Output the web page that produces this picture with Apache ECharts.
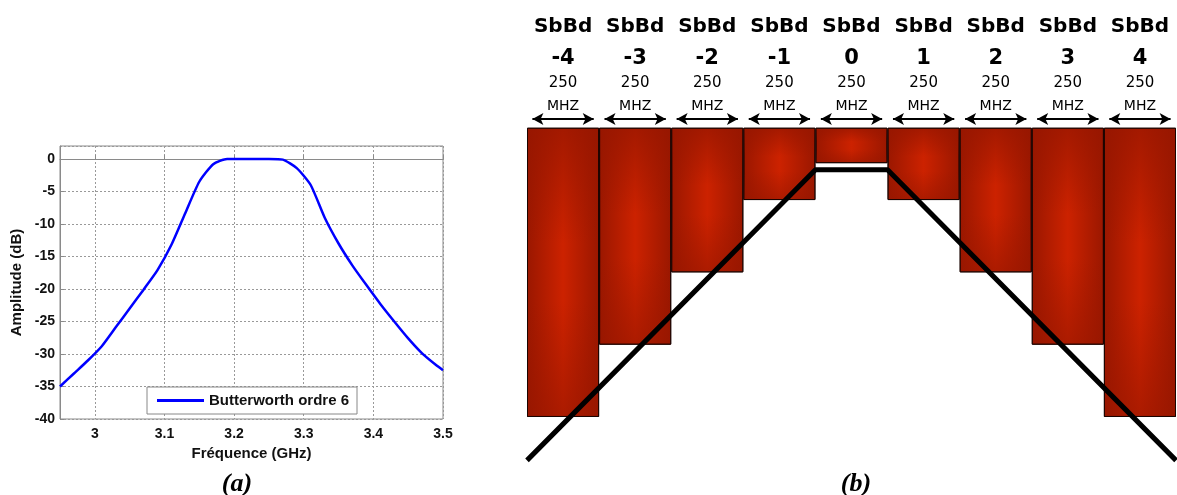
<!DOCTYPE html>
<html>
<head>
<meta charset="utf-8">
<script src="https://cdn.jsdelivr.net/npm/echarts@6/dist/echarts.min.js"></script>
<style>
html,body{margin:0;padding:0;background:#fff;}
#chart{width:1177px;height:495px;}
</style>
</head>
<body>
<div id="chart"></div>
<script>
// ---- Panel (a): Butterworth order 6 response ----
const freqGHz = [2.95, 2.97, 2.99, 3.01, 3.03, 3.05, 3.07, 3.09, 3.11, 3.13, 3.15, 3.17, 3.19,
                 3.21, 3.23, 3.25, 3.27, 3.29, 3.31, 3.33, 3.35, 3.37, 3.39, 3.41, 3.43, 3.45, 3.47, 3.49, 3.5];
const ampDB   = [-35, -33.0, -31.0, -28.8, -25.9, -23.0, -20.1, -17.1, -13.2, -8.3, -3.5, -0.8, 0,
                 0, 0, 0, -0.1, -1.4, -4.0, -9.0, -13.0, -16.4, -19.4, -22.3, -25.0, -27.6, -29.9, -31.7, -32.5];
const xTicks = [3, 3.1, 3.2, 3.3, 3.4, 3.5];
const seriesName = 'Butterworth ordre 6';

// ---- Panel (b): sub-bands ----
const subBands = ['-4', '-3', '-2', '-1', '0', '1', '2', '3', '4'];
const bandPos = [-4, -3, -2, -1, 0, 1, 2, 3, 4];
const bandLevel = [4, 3, 2, 1, 0.49, 1, 2, 3, 4];
const bandWidthText = '250';
const bandUnitText = 'MHZ';
const maskX = [-4.5, -0.5, 0.5, 4.5];
const maskY = [4.6, 0.58, 0.58, 4.6];
const arrowLevel = -0.12;

const chart = echarts.init(document.getElementById('chart'));

const curve = freqGHz.map((f, i) => [f, ampDB[i]]);
const mask = maskX.map((x, i) => [x, maskY[i]]);
const inset = 0.075;
const arrows = bandPos.map(p => [
  {coord: [p - 0.5 + inset, arrowLevel]},
  {coord: [p + 0.5 - inset, arrowLevel]}
]);

const barColor = {
  type: 'linear', x: 0, y: 0, x2: 1, y2: 0,
  colorStops: [
    {offset: 0, color: '#9a1700'},
    {offset: 0.5, color: '#cc2200'},
    {offset: 1, color: '#9a1700'}
  ]
};
const shadeColor = {
  type: 'linear', x: 0, y: 0, x2: 0, y2: 1,
  colorStops: [
    {offset: 0, color: 'rgba(150,22,0,0.75)'},
    {offset: 0.4, color: 'rgba(150,22,0,0)'},
    {offset: 0.6, color: 'rgba(150,22,0,0)'},
    {offset: 1, color: 'rgba(150,22,0,0.6)'}
  ]
};

const tickFont = {fontFamily: 'Liberation Sans, Arial, sans-serif', fontWeight: 'bold', fontSize: 14, color: '#111'};

const option = {
  backgroundColor: '#fff',
  animation: false,
  title: [
    {text: '(a)', left: 232, top: 466, textAlign: 'center',
     textStyle: {fontFamily: 'Liberation Serif, Times New Roman, serif', fontStyle: 'italic', fontWeight: 'bold', fontSize: 26, color: '#000'}},
    {text: '(b)', left: 851, top: 466, textAlign: 'center',
     textStyle: {fontFamily: 'Liberation Serif, Times New Roman, serif', fontStyle: 'italic', fontWeight: 'bold', fontSize: 26, color: '#000'}}
  ],
  legend: {
    data: [{name: seriesName, icon: 'rect'}],
    left: 147, top: 387,
    orient: 'horizontal',
    backgroundColor: '#fff',
    borderColor: '#888', borderWidth: 1,
    padding: [6, 8, 6, 10],
    itemWidth: 47, itemHeight: 3,
    textStyle: {fontFamily: 'Liberation Sans, Arial, sans-serif', fontWeight: 'bold', fontSize: 15, color: '#111', lineHeight: 14}
  },
  grid: [
    {left: 60, top: 146, width: 383, height: 273, show: true, borderColor: '#8a8a8a', borderWidth: 1, backgroundColor: '#fff'},
    {left: 527, top: 116.9, width: 649, height: 350.7, show: false}
  ],
  xAxis: [
    {type: 'value', gridIndex: 0, min: 2.95, max: 3.5,
     name: 'Fréquence (GHz)', nameLocation: 'middle', nameGap: 25,
     nameTextStyle: {fontFamily: 'Liberation Sans, Arial, sans-serif', fontWeight: 'bold', fontSize: 15, color: '#111'},
     axisLine: {show: true, lineStyle: {color: '#8a8a8a'}},
     axisTick: {show: true, inside: true, length: 4, customValues: xTicks, lineStyle: {color: '#8a8a8a'}},
     axisLabel: Object.assign({margin: 8, customValues: xTicks, formatter: v => String(v)}, tickFont),
     splitLine: {show: true, lineStyle: {color: '#999', type: [2, 2], width: 1}}
    },
    {type: 'category', gridIndex: 1, position: 'top', data: subBands,
     axisLine: {show: false}, axisTick: {show: false}, splitLine: {show: false},
     axisLabel: {
       interval: 0, margin: -1,
       formatter: v => '{a|SbBd}\n{b|' + v + '}\n{c|' + bandWidthText + '}\n{d|' + bandUnitText + '}',
       rich: {
         a: {fontFamily: 'DejaVu Sans', fontWeight: 'bold', fontSize: 20, lineHeight: 38, color: '#000'},
         b: {fontFamily: 'DejaVu Sans', fontWeight: 'bold', fontSize: 21, lineHeight: 26, color: '#000'},
         c: {fontFamily: 'DejaVu Sans', fontSize: 15, lineHeight: 23, color: '#000'},
         d: {fontFamily: 'DejaVu Sans', fontSize: 14, lineHeight: 23, color: '#000'}
       }
     }
    },
    {type: 'value', gridIndex: 1, min: -4.5, max: 4.5, show: false}
  ],
  yAxis: [
    {type: 'value', gridIndex: 0, min: -40, max: 2, interval: 5,
     name: 'Amplitude (dB)', nameLocation: 'middle', nameGap: 36, nameRotate: 90,
     nameTextStyle: {fontFamily: 'Liberation Sans, Arial, sans-serif', fontWeight: 'bold', fontSize: 15, color: '#111'},
     axisLine: {show: true, lineStyle: {color: '#8a8a8a'}},
     axisTick: {show: true, inside: true, length: 4, lineStyle: {color: '#8a8a8a'}},
     axisLabel: Object.assign({margin: 5, showMaxLabel: false}, tickFont),
     splitLine: {show: true, lineStyle: {color: '#999', type: [2, 2], width: 1}}
    },
    {type: 'value', gridIndex: 1, inverse: true, min: -0.15, max: 4.7, show: false}
  ],
  series: [
    {name: seriesName, type: 'line', xAxisIndex: 0, yAxisIndex: 0, data: curve,
     smooth: 0.2, symbol: 'none', showSymbol: false,
     lineStyle: {color: '#0000ff', width: 2.5}, itemStyle: {color: '#0000ff'}, z: 5},
    {type: 'bar', xAxisIndex: 1, yAxisIndex: 1, data: bandLevel,
     barCategoryGap: '0%', barGap: '-100%',
     itemStyle: {color: barColor, borderColor: '#1a0400', borderWidth: 1}},
    {type: 'bar', xAxisIndex: 1, yAxisIndex: 1, data: bandLevel,
     barCategoryGap: '0%', barGap: '-100%', silent: true,
     itemStyle: {color: shadeColor, borderColor: '#1a0400', borderWidth: 1}},
    {type: 'line', xAxisIndex: 2, yAxisIndex: 1, data: mask, symbol: 'none',
     lineStyle: {color: '#000', width: 5}, z: 6,
     markLine: {silent: true, symbol: ['arrow', 'arrow'], symbolSize: [9, 11],
       label: {show: false},
       lineStyle: {color: '#000', width: 2, type: 'solid'},
       data: arrows}
    }
  ]
};
chart.setOption(option);
</script>
</body>
</html>
